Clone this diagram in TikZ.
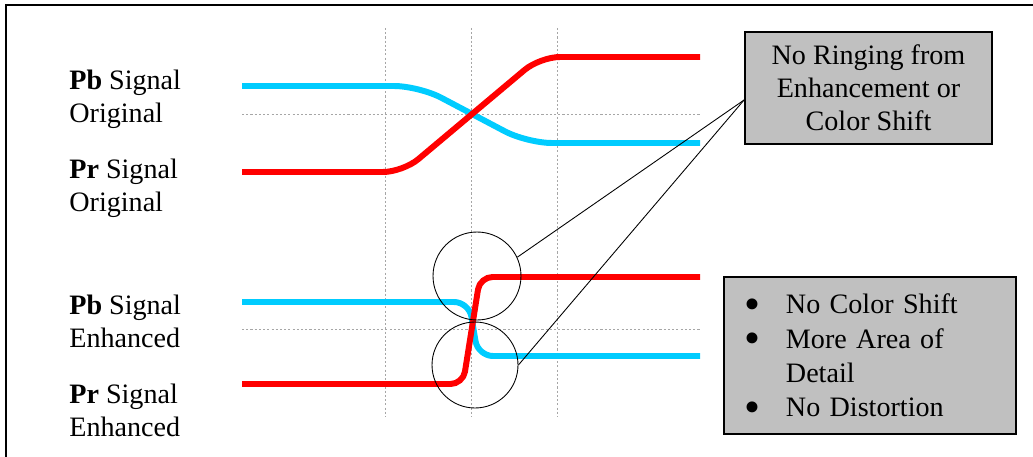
\documentclass[tikz,border=0pt]{standalone}
\usepackage{fontspec}
\setmainfont{Liberation Serif}
\definecolor{pbcol}{HTML}{00CCFF}
\definecolor{prcol}{HTML}{FF0000}
\definecolor{boxgray}{HTML}{C0C0C0}
\newcommand{\blt}{\makebox[0.82cm][l]{\smash{\raisebox{-3.2pt}{\fontsize{26}{0}\selectfont\textbullet}}}}

\begin{document}
\begin{tikzpicture}[x=0.02cm,y=-0.02cm,
    every node/.append style={font=\fontsize{16}{18.7}\selectfont},
    lbl/.style={anchor=west, align=left, inner sep=0pt},
    note/.style={draw, line width=1.1pt, fill=boxgray, inner sep=0pt},
    ring/.style={circle, draw, line width=0.5pt, minimum size=1.76cm, inner sep=0pt},
    grid/.style={gray!70, line width=0.5pt, dash pattern=on 1.2pt off 1.2pt},
    pb/.style={pbcol, line width=3.4pt},
    pr/.style={prcol, line width=3.4pt}]
    \useasboundingbox (0,0) rectangle (1033,456);
    \clip (0,0) rectangle (1033,456);
    \draw[line width=1.4pt] (6,480) -- (6,5) -- (1050,5);

    \node [lbl] (pbOrig) at (69,99)  {\textbf{Pb} Signal\\Original};
    \node [lbl] (prOrig) at (69,188) {\textbf{Pr} Signal\\Original};
    \node [lbl] (pbEnh)  at (69,321) {\textbf{Pb} Signal\\Enhanced};
    \node [lbl] (prEnh)  at (69,410) {\textbf{Pr} Signal\\Enhanced};

    % time grid
    \foreach \x in {385,471,557}
        \draw[grid] (\x,28) -- (\x,416);
    \foreach \y in {114,329}
        \draw[grid] (242,\y) -- (700,\y);

    % original transitions
    \draw[pb, rounded corners=0.5cm] (242,86) -- (419,86) -- (527,143) -- (700,143);
    \draw[pr, rounded corners=0.4cm] (242,172) -- (403,172) -- (540,57) -- (700,57);
    % enhanced transitions
    \draw[pb, rounded corners=0.3cm] (242,302) -- (469,302) -- (478,356) -- (700,356);
    \draw[pr, rounded corners=0.25cm] (242,384) -- (463,384) -- (480,277) -- (700,277);

    \node [ring] (ringTop) at (477,276) {};
    \node [ring, minimum size=1.72cm] (ringBot) at (475,365) {};

    \node [note, minimum width=4.94cm, minimum height=2.24cm, align=center] (ringing) at (868.5,88)
        {No Ringing from\\Enhancement or\\Color Shift};
    \node [note, anchor=west, text width=5cm, inner xsep=0.42cm, minimum height=3.14cm, align=left,
        font=\fontsize{16}{19.6}\selectfont] (gains) at (723,355.5)
        {\blt No Color Shift\\
         \blt More Area of\\
         \hspace*{0.82cm}Detail\\
         \blt No Distortion};

    \draw[line width=0.5pt] ([yshift=-0.24cm]ringing.west) -- (ringTop.25);
    \draw[line width=0.5pt] ([yshift=-0.24cm]ringing.west) -- (ringBot.east);
\end{tikzpicture}
\end{document}
